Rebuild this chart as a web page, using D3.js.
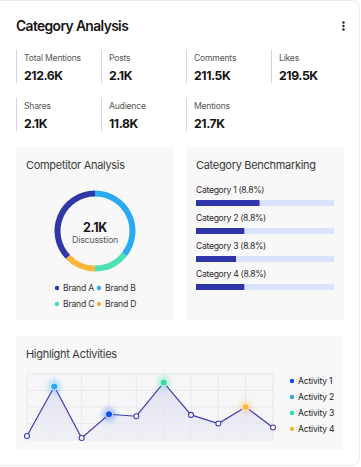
<!DOCTYPE html>
<html><head><meta charset="utf-8">
<script src="https://cdn.jsdelivr.net/npm/d3@7"></script>
<style>
html,body{margin:0;padding:0;background:#fff;}
svg{display:block;font-family:Inter,"Noto Sans",sans-serif;}
</style></head>
<body><svg id="c" width="361" height="467"></svg>
<script>
// ---- data ----
const statLabels = ["Total Mentions","Posts","Comments","Likes","Shares","Audience","Mentions"];
const statValues = ["212.6K","2.1K","211.5K","219.5K","2.1K","11.8K","21.7K"];
const brands = ["Brand A","Brand B","Brand C","Brand D"];
const brandShares = [37.2, 35.7, 14.3, 12.8];
const brandColors = ["#3037a8","#2aaaf1","#4ddfb6","#fbb63a"];
const donutTotal = "2.1K";
const donutLabel = "Discusstion";
const categories = ["Category 1 (8.8%)","Category 2 (8.8%)","Category 3 (8.8%)","Category 4 (8.8%)"];
const categoryValues = [46, 35, 29, 35];
const activityValues = [6, 81, 3, 39, 36, 87, 38, 25, 50, 19];
const activities = ["Activity 1","Activity 2","Activity 3","Activity 4"];
const activityColors = ["#0a4ef4","#2aa7f0","#2ed9a4","#f9b43c"];
const activityIndex = [3, 1, 5, 8];
const gridTicks = [0, 25, 50, 75, 100];

const svg = d3.select("#c");
const defs = svg.append("defs");

// card
svg.append("rect").attr("x",-10).attr("y",0.5).attr("width",369.5).attr("height",465)
  .attr("rx",7).attr("fill","#fff").attr("stroke","#ebebeb");

svg.append("text").attr("x",16).attr("y",31).attr("font-size",13.8).attr("font-weight",600)
  .attr("fill","#161616").attr("letter-spacing",-0.6).text("Category Analysis");
[22.5,26,29.5].forEach(y=>svg.append("circle").attr("cx",343.5).attr("cy",y).attr("r",1.2).attr("fill","#222"));

// stats
const colX = d3.scaleBand().domain(d3.range(4)).range([16,356]);
const rowY = d3.scaleBand().domain(d3.range(2)).range([50,146]);
statLabels.forEach((lab,i)=>{
  const c=i%4, r=Math.floor(i/4);
  const x=colX(c), y=rowY(r);
  const g=svg.append("g").attr("transform",`translate(${x},${y})`);
  g.append("line").attr("x1",0.5).attr("x2",0.5).attr("y1",0).attr("y2",33).attr("stroke","#d6d3f0").attr("stroke-width",1);
  g.append("text").attr("x",8).attr("y",10.5).attr("font-size",8.6).attr("letter-spacing",-0.2).attr("fill","#555").text(lab);
  g.append("text").attr("x",8).attr("y",30).attr("font-size",12.2).attr("letter-spacing",-0.4).attr("font-weight",700).attr("fill","#151515").text(statValues[i]);
});

// panels
const panelFill="#f8f8f8";
svg.append("rect").attr("x",16).attr("y",147).attr("width",158).attr("height",173).attr("fill",panelFill);
svg.append("rect").attr("x",186).attr("y",147).attr("width",158).attr("height",173).attr("fill",panelFill);
svg.append("rect").attr("x",16).attr("y",336).attr("width",327).attr("height",114).attr("fill",panelFill);

const ptitle=(x,y,t)=>svg.append("text").attr("x",x).attr("y",y).attr("font-size",11).attr("letter-spacing",-0.3).attr("fill","#3a3a3a").text(t);
ptitle(26,169,"Competitor Analysis");
ptitle(196,169,"Category Benchmarking");
ptitle(26,358,"Highlight Activities");

// donut
const total=d3.sum(brandShares);
const start=-2*Math.PI*brandShares[0]/total;
const pie=d3.pie().sort(null).value(d=>d).startAngle(start).endAngle(start+2*Math.PI);
const arc=d3.arc().innerRadius(34.5).outerRadius(40.5);
const dg=svg.append("g").attr("transform","translate(95,231)");
dg.selectAll("path").data(pie(brandShares)).join("path").attr("d",arc).attr("fill",(d,i)=>brandColors[i]);
dg.append("text").attr("text-anchor","middle").attr("y",1).attr("font-size",12.5).attr("letter-spacing",-0.3).attr("font-weight",700).attr("fill","#151515").text(donutTotal);
dg.append("text").attr("text-anchor","middle").attr("y",12).attr("font-size",8.8).attr("letter-spacing",-0.2).attr("fill","#555").text(donutLabel);

const lgX=d3.scalePoint().domain([0,1]).range([57,99]);
brands.forEach((b,i)=>{
  const x=lgX(i%2), y=288+Math.floor(i/2)*16;
  svg.append("circle").attr("cx",x).attr("cy",y).attr("r",2.2).attr("fill",brandColors[i]);
  svg.append("text").attr("x",x+6).attr("y",y+3.2).attr("font-size",8.6).attr("letter-spacing",-0.2).attr("fill","#333").text(b);
});

// bars
const bx=d3.scaleLinear().domain([0,100]).range([196,334]);
const by=d3.scaleBand().domain(categories).range([180,292]);
categories.forEach((c,i)=>{
  const y=by(c);
  svg.append("text").attr("x",196).attr("y",y+13.3).attr("font-size",8.6).attr("letter-spacing",-0.3).attr("fill","#2a2a2a").text(c);
  svg.append("rect").attr("x",bx(0)).attr("y",y+20).attr("width",bx(100)-bx(0)).attr("height",6).attr("fill","#dbe2fc");
  svg.append("rect").attr("x",bx(0)).attr("y",y+20).attr("width",bx(categoryValues[i])-bx(0)).attr("height",6).attr("fill","#2f35a8");
});

// line chart
const lx=d3.scaleLinear().domain([0,activityValues.length-1]).range([27,273]);
const ly=d3.scaleLinear().domain([0,100]).range([440,374]);
const grad=defs.append("linearGradient").attr("id","ag").attr("x1",0).attr("y1",0).attr("x2",0).attr("y2",1);
grad.append("stop").attr("offset","0%").attr("stop-color","#d9d9f0").attr("stop-opacity",0.8);
grad.append("stop").attr("offset","100%").attr("stop-color","#ececf5").attr("stop-opacity",0.6);
const glow=defs.append("filter").attr("id","glow").attr("x","-100%").attr("y","-100%").attr("width","300%").attr("height","300%");
glow.append("feGaussianBlur").attr("stdDeviation",2.5);

const gg=svg.append("g");
gg.append("rect").attr("x",lx(0)).attr("y",ly(100)).attr("width",lx(9)-lx(0)).attr("height",ly(0)-ly(100)).attr("fill","#f6f6f8");
gridTicks.forEach(t=>gg.append("line").attr("x1",lx(0)).attr("x2",lx(9)).attr("y1",ly(t)).attr("y2",ly(t)).attr("stroke","#e8e8ec"));
activityValues.forEach((v,i)=>gg.append("line").attr("x1",lx(i)).attr("x2",lx(i)).attr("y1",ly(0)).attr("y2",ly(100)).attr("stroke","#e8e8ec"));

gg.append("path").datum(activityValues)
  .attr("d",d3.area().x((d,i)=>lx(i)).y0(ly(0)).y1(d=>ly(d))).attr("fill","url(#ag)");
gg.append("path").datum(activityValues)
  .attr("d",d3.line().x((d,i)=>lx(i)).y(d=>ly(d))).attr("fill","none").attr("stroke","#3d3db0").attr("stroke-width",1.2);

activityValues.forEach((v,i)=>{
  const k=activityIndex.indexOf(i);
  if(k<0){
    gg.append("circle").attr("cx",lx(i)).attr("cy",ly(v)).attr("r",2.5).attr("fill","#fff").attr("stroke","#3d3db0").attr("stroke-width",1.1);
  } else {
    gg.append("circle").attr("cx",lx(i)).attr("cy",ly(v)).attr("r",6.5).attr("fill",activityColors[k]).attr("opacity",0.35).attr("filter","url(#glow)");
    gg.append("circle").attr("cx",lx(i)).attr("cy",ly(v)).attr("r",3.6).attr("fill",activityColors[k]).attr("stroke","#fff").attr("stroke-width",0.8);
  }
});

const aly=d3.scalePoint().domain(activities).range([381,429]);
activities.forEach((a,i)=>{
  const y=aly(a);
  svg.append("circle").attr("cx",292).attr("cy",y).attr("r",2.2).attr("fill",activityColors[i]);
  svg.append("text").attr("x",298).attr("y",y+3.2).attr("font-size",8.6).attr("letter-spacing",-0.2).attr("fill","#222").text(a);
});
</script></body></html>
